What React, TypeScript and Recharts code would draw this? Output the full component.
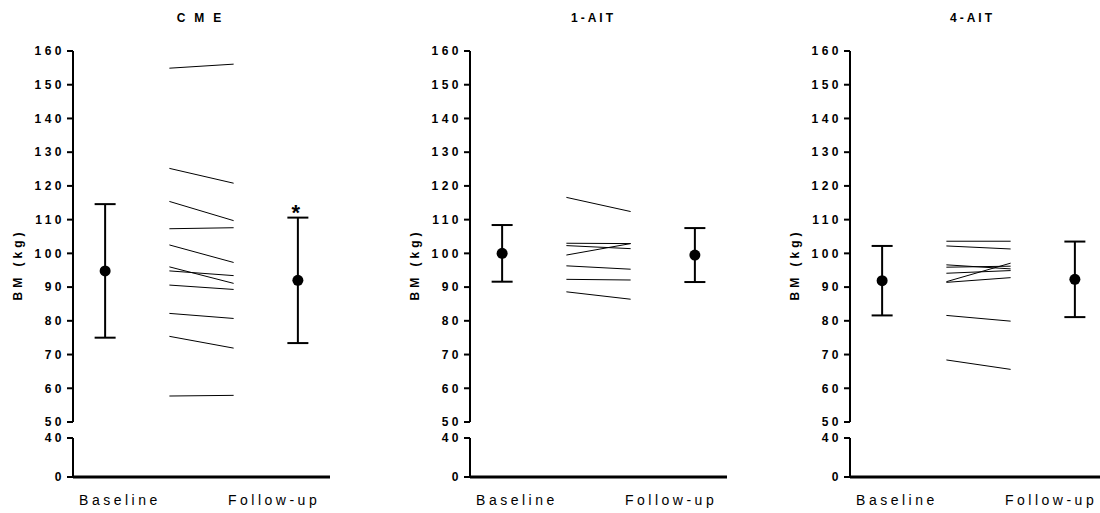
import React from "react";
import { ComposedChart, Scatter, ErrorBar, XAxis, YAxis, ReferenceDot, Label } from "recharts";

const groups = ["CME", "1-AIT", "4-AIT"];
const timepoints = ["Baseline", "Follow-up"];
const upperTicks = [50, 60, 70, 80, 90, 100, 110, 120, 130, 140, 150, 160];
const lowerTicks = [0, 40];

// individual subjects, body mass (kg)
const cmeBaseline = [154.9, 125.2, 115.4, 107.3, 102.5, 96.0, 94.8, 90.6, 82.2, 75.4, 57.7];
const cmeFollowUp = [156.1, 120.8, 109.7, 107.6, 97.3, 91.1, 93.4, 89.3, 80.7, 71.9, 57.9];
const ait1Baseline = [116.6, 103.0, 102.3, 99.5, 96.3, 92.3, 88.6];
const ait1FollowUp = [112.4, 102.9, 101.4, 102.9, 95.3, 92.1, 86.4];
const ait4Baseline = [103.6, 102.2, 96.6, 95.9, 94.1, 91.6, 91.4, 81.6, 68.4];
const ait4FollowUp = [103.6, 101.3, 95.4, 96.2, 94.9, 97.1, 92.8, 79.9, 65.6];

// group mean ± SD
const meanBaseline = [94.8, 100.0, 91.9];
const sdBaseline = [19.8, 8.4, 10.3];
const meanFollowUp = [92.0, 99.5, 92.3];
const sdFollowUp = [18.6, 8.0, 11.2];
const followUpMarks = ["*", "", ""];

const baselines = [cmeBaseline, ait1Baseline, ait4Baseline];
const followUps = [cmeFollowUp, ait1FollowUp, ait4FollowUp];

const FONT = "'Liberation Sans', Arial, sans-serif";
const AXIS_X = [73, 470, 850];
const Y_AXIS_W = 73;
const PLOT_W = 257;
const TITLE_X = [199, 592, 971];
const TITLE_SPACING = [9, 3, 3];

const boldTick = {
  fill: "#000",
  fontSize: 12,
  fontWeight: 700,
  fontFamily: FONT,
  letterSpacing: 3.5,
};

function YLabel(props: any) {
  const vb = props.viewBox || { x: 0, y: 0, height: 0 };
  const x = vb.x + 18;
  const y = vb.y + vb.height / 2 + 28;
  return (
    <text
      x={x}
      y={y}
      transform={`rotate(-90, ${x}, ${y})`}
      textAnchor="middle"
      dominantBaseline="central"
      fill="#000"
      fontSize={12}
      fontWeight={700}
      fontFamily={FONT}
      letterSpacing={4}
    >
      BM (kg)
    </text>
  );
}

const dotShape = (s: any) => <circle cx={s.cx} cy={s.cy} r={5.5} fill="#000" />;
const noShape = () => <g />;

function Panel({ index }: { index: number }) {
  const left = AXIS_X[index] - Y_AXIS_W;
  const width = Y_AXIS_W + PLOT_W + 4;
  const pairs = baselines[index].map((b, i) => [
    { x: 1.5, y: b },
    { x: 2.5, y: followUps[index][i] },
  ]);
  const means = [
    { x: 0.5, y: meanBaseline[index], err: sdBaseline[index] },
    { x: 3.5, y: meanFollowUp[index], err: sdFollowUp[index] },
  ];
  const mark = followUpMarks[index];

  return (
    <>
      <div
        style={{
          position: "absolute",
          left: TITLE_X[index] - 60,
          width: 120,
          top: 12,
          textAlign: "center",
          fontFamily: FONT,
          fontWeight: 700,
          fontSize: 12,
          lineHeight: "12px",
          letterSpacing: TITLE_SPACING[index],
          paddingLeft: TITLE_SPACING[index],
          boxSizing: "border-box",
        }}
      >
        {groups[index]}
      </div>
      <div style={{ position: "absolute", left, top: 40 }}>
        <ComposedChart width={width} height={392} margin={{ top: 11, right: 4, bottom: 10, left: 0 }}>
          <XAxis type="number" dataKey="x" domain={[0, 4]} hide />
          <YAxis
            type="number"
            dataKey="y"
            domain={[50, 160]}
            ticks={upperTicks}
            interval={0}
            width={Y_AXIS_W}
            tickSize={6}
            stroke="#000"
            axisLine={{ stroke: "#000", strokeWidth: 2 }}
            tickLine={{ stroke: "#000", strokeWidth: 2 }}
            tick={boldTick}
          >
            <Label content={YLabel} />
          </YAxis>
          {pairs.map((p, i) => (
            <Scatter
              key={i}
              data={p}
              line={{ stroke: "#000", strokeWidth: 1 }}
              shape={noShape}
              isAnimationActive={false}
            />
          ))}
          <Scatter data={means} shape={dotShape} isAnimationActive={false}>
            <ErrorBar dataKey="err" direction="y" width={10.5} stroke="#000" strokeWidth={2} />
          </Scatter>
          {mark && (
            <ReferenceDot
              x={3.5}
              y={meanFollowUp[index] + sdFollowUp[index]}
              r={0}
              ifOverflow="visible"
              shape={(s: any) => (
                <text
                  x={s.cx - 2}
                  y={s.cy + 2}
                  textAnchor="middle"
                  fontSize={22}
                  fontWeight={700}
                  fontFamily={FONT}
                  fill="#000"
                >
                  {mark}
                </text>
              )}
            />
          )}
        </ComposedChart>
      </div>
      <div style={{ position: "absolute", left, top: 426 }}>
        <ComposedChart width={width} height={86} margin={{ top: 12, right: 4, bottom: 0, left: 0 }}>
          <XAxis
            type="number"
            dataKey="x"
            domain={[0, 4]}
            ticks={[0.73, 3.13]}
            interval={0}
            tickFormatter={(_v: number, i: number) => timepoints[i]}
            tickLine={false}
            tickSize={0}
            tickMargin={18}
            height={35}
            stroke="#000"
            axisLine={{ stroke: "#000", strokeWidth: 3 }}
            tick={{ fill: "#000", fontSize: 14, fontFamily: FONT, letterSpacing: 3.5 }}
          />
          <YAxis
            type="number"
            dataKey="y"
            domain={[0, 40]}
            allowDataOverflow
            ticks={lowerTicks}
            interval={0}
            width={Y_AXIS_W}
            tickSize={6}
            stroke="#000"
            axisLine={{ stroke: "#000", strokeWidth: 2 }}
            tickLine={{ stroke: "#000", strokeWidth: 2 }}
            tick={boldTick}
          />
          <Scatter data={means} shape={noShape} isAnimationActive={false} />
        </ComposedChart>
      </div>
    </>
  );
}

export default function App() {
  return (
    <div
      style={{
        position: "absolute",
        left: 0,
        top: 0,
        width: 1100,
        height: 513,
        overflow: "hidden",
        background: "#fff",
      }}
    >
      {groups.map((g, i) => (
        <Panel key={g} index={i} />
      ))}
    </div>
  );
}
